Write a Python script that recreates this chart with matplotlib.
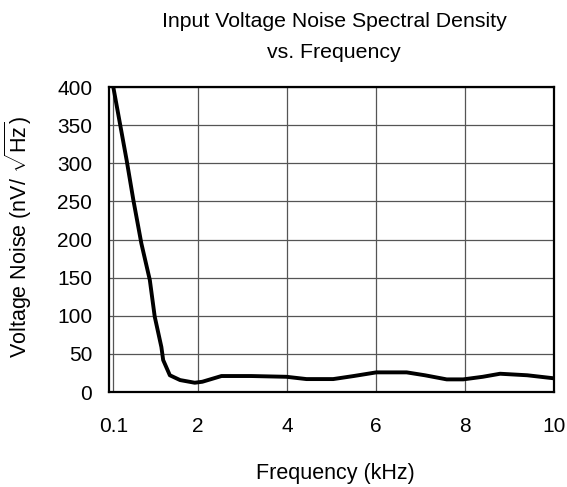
import matplotlib
matplotlib.use('Agg')
import matplotlib.pyplot as plt
import numpy as np

plt.rcParams['font.family'] = ['Liberation Sans', 'DejaVu Sans']
plt.rcParams['mathtext.fontset'] = 'custom'
plt.rcParams['mathtext.rm'] = 'Liberation Sans'

# Dane (kHz, nV/sqrt(Hz))
freq = [0.1, 0.4, 0.55, 0.73, 0.92, 1.03, 1.18, 1.22, 1.37, 1.6, 1.93, 2.1,
        2.53, 3.2, 3.99, 4.44, 5.04, 5.5, 6.01, 6.69, 7.1, 7.59, 7.96, 8.4,
        8.79, 9.4, 10.0]
noise = [400, 304, 252, 195, 147, 99, 59, 42, 22, 15.7, 12.2, 13.5,
         21, 21, 20, 17, 17, 21, 25.8, 25.8, 22, 16.6, 16.6, 20,
         24, 22, 18]

x_ticks = [0.1, 2, 4, 6, 8, 10]
x_tick_labels = ['0.1', '2', '4', '6', '8', '10']
y_ticks = np.arange(0, 401, 50)

fig = plt.figure(figsize=(5.67, 4.87), dpi=100)
ax = fig.add_axes([0.192, 0.195, 0.785, 0.626])

ax.plot(freq, noise, color='black', linewidth=2.8, solid_joinstyle='round')

ax.set_xlim(0, 10)
ax.set_ylim(0, 400)
ax.set_xticks(x_ticks)
ax.set_xticklabels(x_tick_labels)
ax.set_yticks(y_ticks)
ax.tick_params(axis='both', length=0, labelsize=15, colors='black')
ax.tick_params(axis='x', pad=18)
ax.tick_params(axis='y', pad=12)

ax.grid(True, color='#555555', linewidth=0.9)
for s in ax.spines.values():
    s.set_linewidth(1.6)
    s.set_color('black')

ax.set_xlabel('Frequency (kHz)', fontsize=15.5)
ax.xaxis.set_label_coords(0.508, -0.233)
ax.set_ylabel(r'Voltage Noise (nV/ $\sqrt{\mathrm{Hz}}$)', fontsize=15.5)
ax.yaxis.set_label_coords(-0.169, 0.508)

# Tytuł w dwóch liniach
fig.text(0.589, 0.945, 'Input Voltage Noise Spectral Density', ha='center', va='baseline', fontsize=15.3)
fig.text(0.589, 0.881, 'vs. Frequency', ha='center', va='baseline', fontsize=15.3)

plt.savefig('out.png', dpi=100)
